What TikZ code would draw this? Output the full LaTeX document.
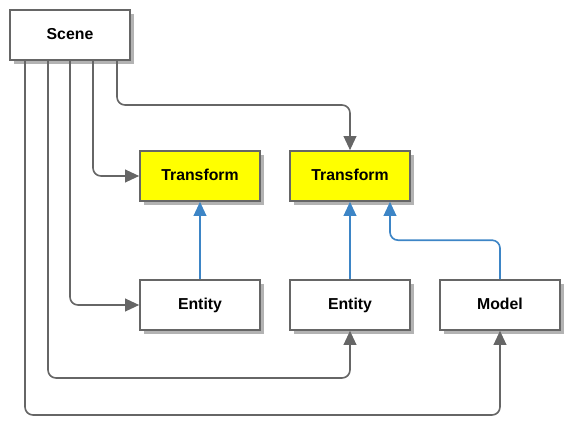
\documentclass[tikz,border=0pt]{standalone}
\usepackage{fontspec}
\setmainfont{Liberation Sans}
\usetikzlibrary{calc,shadows,arrows.meta}

\begin{document}
\begin{tikzpicture}[x=0.03cm, y=-0.03cm]
    \definecolor{C0}{HTML}{666666}
    \definecolor{C1}{HTML}{FFFF00}
    \definecolor{C2}{HTML}{3D85C6}
    \definecolor{C3}{HTML}{B3B3B3}

    \tikzset{
        box/.style={draw=C0, line width=1.4pt, fill=white, minimum width=3.6cm, minimum height=1.5cm,
            font=\fontsize{13.5}{16}\selectfont\bfseries, text height=0.95em, text depth=0.1em,
            drop shadow={shadow xshift=0.12cm, shadow yshift=-0.12cm, fill=C3, opacity=1}},
        link/.style={draw=C0, line width=1.4pt, rounded corners=0.24cm, -{Triangle[length=0.42cm, width=0.38cm]}},
        owns/.style={link, draw=C2},
    }

    \useasboundingbox (0,0) rectangle (580,440);

    \node[box] (scene) at (70,35) {Scene};
    \node[box, fill=C1] (t1) at (200,176) {Transform};
    \node[box, fill=C1] (t2) at (350,176) {Transform};
    \node[box] (e1) at (200,305) {Entity};
    \node[box] (e2) at (350,305) {Entity};
    \node[box] (m) at (500,305) {Model};

    \coordinate (s1) at (25,60);
    \coordinate (s2) at (48,60);
    \coordinate (s3) at (70,60);
    \coordinate (s4) at (93,60);
    \coordinate (s5) at (117,60);

    \path[link] (s5) -- ++(0,45) -| (t2.north);
    \path[link] (s4) |- (t1.west);
    \path[link] (s3) |- (e1.west);
    \path[link] (s2) -- ++(0,318) -| (e2.south);
    \path[link] (s1) -- ++(0,355) -| (m.south);

    \path[owns] (e1.north) -- (t1.south);
    \path[owns] (e2.north) -- (t2.south);
    \path[owns] (m.north) -- ++(0,-39) -| ($ (t2.south) + (40,0) $);

\end{tikzpicture}
\end{document}
